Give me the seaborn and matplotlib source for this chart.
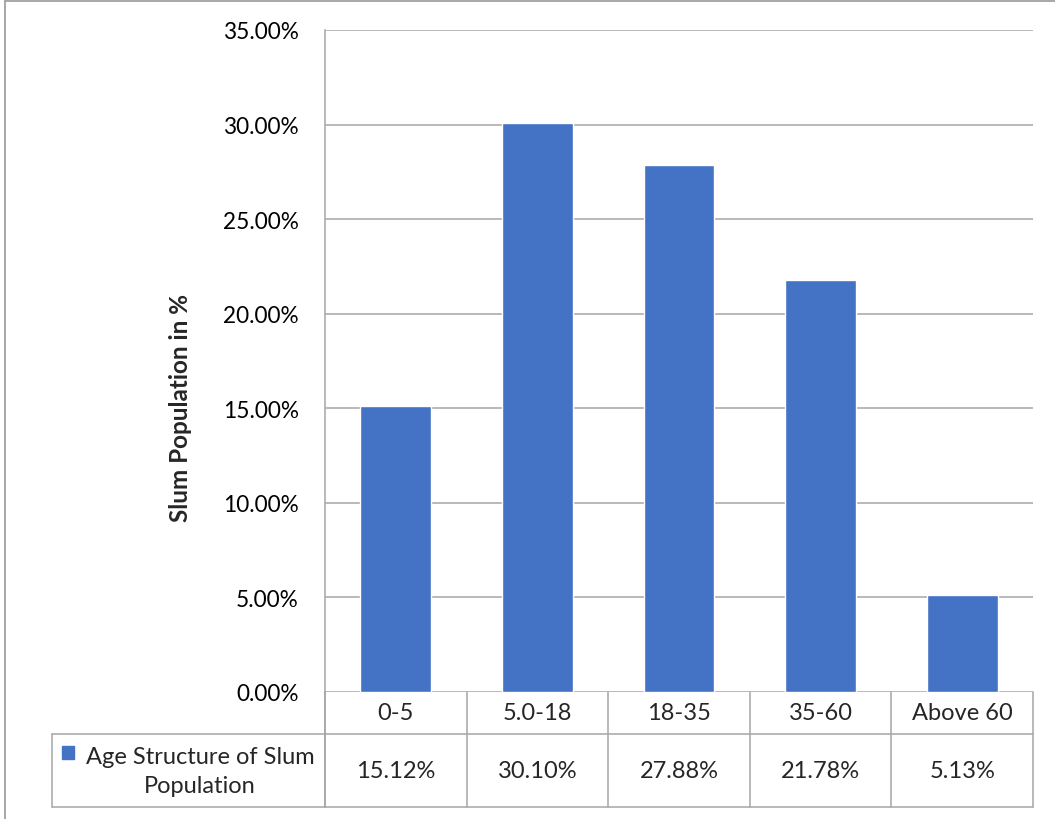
import matplotlib
matplotlib.use("Agg")
import matplotlib.pyplot as plt
import seaborn as sns
import pandas as pd
from matplotlib.ticker import FuncFormatter, MultipleLocator
from matplotlib.patches import Rectangle
from matplotlib.lines import Line2D

categories = ["0-5", "5.0-18", "18-35", "35-60", "Above 60"]
values = [15.12, 30.10, 27.88, 21.78, 5.13]
series_name = "Age Structure of Slum\nPopulation"
y_label = "Slum Population in %"

sns.set_theme(style="white")
plt.rcParams["font.family"] = ["Lato", "DejaVu Sans"]

W, H = 1055, 820
fig = plt.figure(figsize=(W / 100, H / 100), dpi=100)
L, R, T, B = 325, 1033, 31, 693
ax = fig.add_axes([L / W, 1 - B / H, (R - L) / W, (B - T) / H])

df = pd.DataFrame({"cat": categories, "val": values})
sns.barplot(data=df, x="cat", y="val", color="#4472C4", width=0.5, ax=ax,
            saturation=1, zorder=3)

ax.set_ylim(0, 35)
ax.set_xlim(-0.5, len(categories) - 0.5)
ax.yaxis.set_major_locator(MultipleLocator(5))
ax.yaxis.set_major_formatter(FuncFormatter(lambda v, p: f"{v:.2f}%"))
ax.tick_params(axis="y", labelsize=16.3, pad=19, length=0, colors="#000000")
ax.set_xticks([])
ax.set_xlabel("")
ax.set_ylabel("")
grid_c = "#A6A6A6"
ax.yaxis.grid(True, color=grid_c, lw=1.1, zorder=0)
ax.set_axisbelow(True)
for s in ["top", "right", "bottom"]:
    ax.spines[s].set_visible(False)
ax.spines["left"].set_color(grid_c)
ax.spines["left"].set_linewidth(1.1)

# data table below the axes
trans = ax.transAxes
h = B - T
row1 = -(735 - B) / h
row2 = -(808 - B) / h
left_tab = (52 - L) / (R - L)
blend = matplotlib.transforms.blended_transform_factory(ax.transData, ax.transAxes)
n = len(categories)
for i in range(n + 1):
    ax.add_line(Line2D([i - 0.5, i - 0.5], [0, row2], transform=blend,
                       color=grid_c, lw=1.1, clip_on=False))
ax.add_line(Line2D([left_tab, 1], [row1, row1], transform=trans,
                   color=grid_c, lw=1.1, clip_on=False))
ax.add_line(Line2D([left_tab, 1], [row2, row2], transform=trans,
                   color=grid_c, lw=1.1, clip_on=False))
ax.add_line(Line2D([0, 0], [0, row2], transform=trans,
                   color=grid_c, lw=1.1, clip_on=False))
ax.add_line(Line2D([left_tab, left_tab], [row1, row2], transform=trans,
                   color=grid_c, lw=1.1, clip_on=False))

for i, (c, v) in enumerate(zip(categories, values)):
    ax.text(i, row1 / 2, c, transform=blend, ha="center", va="center",
            fontsize=17, clip_on=False)
    ax.text(i, (row1 + row2) / 2, f"{v:.2f}%", transform=blend, ha="center",
            va="center", fontsize=17, clip_on=False)

# legend key cell
fig.patches.append(Rectangle((62 / W, 1 - 760 / H), 12 / W, 13 / H,
                             transform=fig.transFigure, color="#4472C4"))
fig.text(200 / W, 1 - 772 / H, series_name, ha="center", va="center",
         fontsize=17, linespacing=1.45)

fig.text(180 / W, 1 - 408 / H, y_label, rotation=90, ha="center", va="center",
         fontsize=17.5, fontweight="bold")

# outer chart frame (cropped on right/bottom)
fig.add_artist(Line2D([5 / W, 5 / W], [0, 1 - 2 / H], transform=fig.transFigure,
                      color="#A0A0A0", lw=1.3))
fig.add_artist(Line2D([5 / W, 1], [1 - 2 / H, 1 - 2 / H], transform=fig.transFigure,
                      color="#A0A0A0", lw=1.3))

fig.savefig("out.png", dpi=100, facecolor="white")
